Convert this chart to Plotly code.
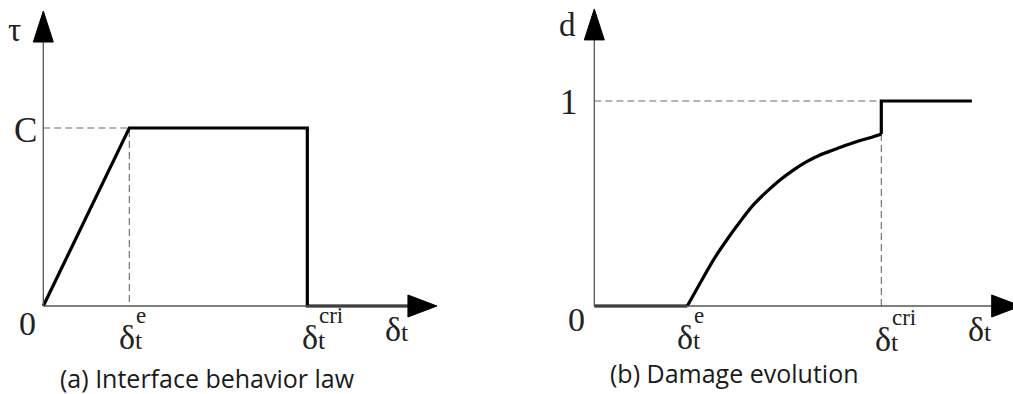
import plotly.graph_objects as go

# === DATA ===
# (a) interface behaviour law, x in units of delta_t^e, y in units of C
tau_x = [0.0, 1.0, 3.07, 3.07, 4.24]
tau_y = [0.0, 1.0, 1.0, 0.0, 0.0]
tau_axis_end = [4.24, 1.483]     # x, y where the arrows start

# (b) damage evolution, x in units of delta_t^e
d_x = [0.0, 1.0, 1.137, 1.28, 1.424, 1.567, 1.71, 1.854, 1.997, 2.14,
       2.284, 2.427, 2.57, 2.714, 2.857, 3.0, 3.086, 3.086, 4.06]
d_y = [0.0, 0.0, 0.111, 0.224, 0.322, 0.411, 0.493, 0.558, 0.615, 0.663,
       0.704, 0.737, 0.761, 0.785, 0.807, 0.826, 0.839, 1.0, 1.0]
d_axis_end = [4.273, 1.298]

tau_e, tau_cri, tau_C = 1.0, 3.07, 1.0
d_e, d_cri, d_one = 1.0, 3.086, 1.0

captions = ["(a) Interface behavior law", "(b) Damage evolution"]

# === STYLE ===
W, H = 1013, 394
serif = "Liberation Serif"
sans = "Open Sans"
axis_col = "#555555"
dash_col = "#6a6a6a"
txt_col = "#222222"
dash = dict(color=dash_col, width=1.1, dash="7px,4px")
bold = dict(color="black", width=3.2)

fig = go.Figure()


def line_trace(xs, ys, xa, ya, style):
    fig.add_trace(go.Scatter(x=xs, y=ys, mode="lines", line=style, xaxis=xa, yaxis=ya,
                             showlegend=False, hoverinfo="skip"))


def add_axes(xa, ya, axis_end):
    fig.add_shape(type="line", xref=xa, yref=ya, x0=0, y0=0, x1=axis_end[0], y1=0,
                  line=dict(color=axis_col, width=1.3))
    fig.add_shape(type="line", xref=xa, yref=ya, x0=0, y0=0, x1=0, y1=axis_end[1],
                  line=dict(color=axis_col, width=1.3))
    # arrowheads, pixel sized, anchored on the axis ends
    fig.add_shape(type="path", xref=xa, yref=ya, xsizemode="pixel", ysizemode="pixel",
                  xanchor=axis_end[0], yanchor=0, path="M0,-11 L29,0 L0,11 Z",
                  fillcolor="black", line=dict(color="black", width=1))
    fig.add_shape(type="path", xref=xa, yref=ya, xsizemode="pixel", ysizemode="pixel",
                  xanchor=0, yanchor=axis_end[1], path="M-10,0 L10,0 L0,31 Z",
                  fillcolor="black", line=dict(color="black", width=1))


# panel (a)
add_axes("x", "y", tau_axis_end)
line_trace([0, tau_e, tau_e], [tau_C, tau_C, 0], "x", "y", dash)
line_trace(tau_x, tau_y, "x", "y", bold)

# panel (b)
add_axes("x2", "y2", d_axis_end)
line_trace([0, d_cri], [d_one, d_one], "x2", "y2", dash)
line_trace([d_cri, d_cri], [0, d_y[16]], "x2", "y2", dash)
line_trace(d_x[:2], d_y[:2], "x2", "y2", bold)
line_trace(d_x[1:17], d_y[1:17], "x2", "y2", dict(bold, shape="spline", smoothing=0.8))
line_trace(d_x[16:], d_y[16:], "x2", "y2", bold)


def label(text, xref, yref, x, y, dx, dy, size):
    fig.add_annotation(text=text, xref=xref, yref=yref, x=x, y=y, xshift=dx, yshift=dy,
                       showarrow=False, xanchor="center", yanchor="middle",
                       font=dict(family=serif, size=size, color=txt_col))


def delta_label(sup, xref, yref, x, dx, dy):
    # superscript stacked above the subscript t
    pad = "<span style='font-size:34px'>\u00a0\u00a0</span>"
    text = (pad + "<span style='font-size:23px'>" + sup + "</span>"
            "<br><span style='font-size:34px'>δ</span>"
            "<span style='font-size:26px'>t</span>")
    fig.add_annotation(text=text, xref=xref, yref=yref, x=x, y=0, xshift=dx, yshift=dy,
                       showarrow=False, xanchor="left", yanchor="middle", align="left",
                       font=dict(family=serif, size=20, color=txt_col))


delta_t = "<span style='font-size:34px'>δ</span><span style='font-size:26px'>t</span>"

# panel (a) labels
label("τ", "x", "y", 0, tau_axis_end[1], -29, 12, 33)
label("C", "x", "y", 0, tau_C, -18, -2, 35)
label("0", "x", "y", 0, 0, -16, -17, 34)
delta_label("e", "x", "y", tau_e, -12, -18)
delta_label("cri", "x", "y", tau_cri, -7, -18)
label(delta_t, "x", "y", tau_axis_end[0], 0, -11, -23, 34)

# panel (b) labels
label("d", "x2", "y2", 0, d_axis_end[1], -27, 15, 33)
label("1", "x2", "y2", 0, d_one, -25, -1, 35)
label("0", "x2", "y2", 0, 0, -18, -13, 34)
delta_label("e", "x2", "y2", d_e, -12, -18)
delta_label("cri", "x2", "y2", d_cri, -8, -20)
label(delta_t, "x2", "y2", d_axis_end[0], 0, -12, -23, 34)

# captions
for cap, cx, cy in zip(captions, [207 / W, 734 / W], [(H - 378) / H, (H - 373) / H]):
    fig.add_annotation(text=cap, xref="paper", yref="paper", x=cx, y=cy,
                       xanchor="center", yanchor="middle", showarrow=False,
                       font=dict(family=sans, size=25, color="#1a1a1a"))

hidden = dict(visible=False, showgrid=False, zeroline=False, fixedrange=True)
fig.update_layout(
    width=W, height=H,
    margin=dict(l=0, r=0, t=0, b=0),
    paper_bgcolor="white", plot_bgcolor="white",
    showlegend=False,
    xaxis=dict(domain=[0, 0.5], range=[-43.3 / 86, (506.5 - 43.3) / 86], **hidden),
    yaxis=dict(domain=[0, 1], range=[-88 / 178, 306 / 178], **hidden),
    xaxis2=dict(domain=[0.5, 1], range=[(506.5 - 594.3) / 93, (1013 - 594.3) / 93],
                anchor="y2", **hidden),
    yaxis2=dict(domain=[0, 1], range=[-88 / 205, 306 / 205], anchor="x2", **hidden),
)

fig.write_html("out.html", config={"displayModeBar": False},
               post_script="document.body.style.margin='0';")
